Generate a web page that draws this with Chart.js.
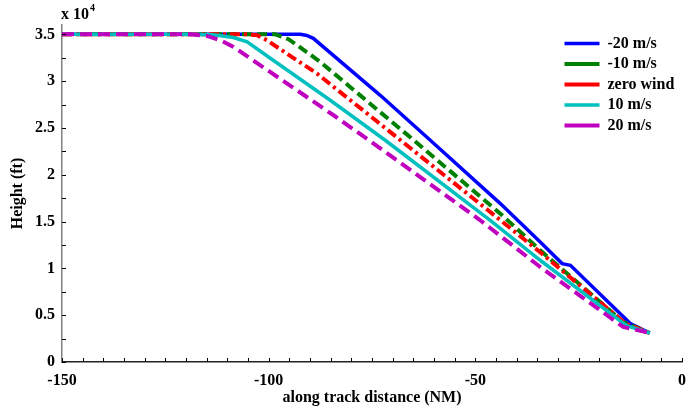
<!DOCTYPE html>
<html>
<head>
<meta charset="utf-8">
<script src="https://cdn.jsdelivr.net/npm/chart.js@4.4.1/dist/chart.umd.min.js"></script>
<style>
  html, body { margin: 0; padding: 0; background: #ffffff; }
  #wrap { position: relative; width: 688px; height: 412px; }
</style>
</head>
<body>
<div id="wrap"><canvas id="c" width="688" height="412"></canvas></div>
<script>
// ---- data (along track distance in NM, height in ft) ----
const seriesLabels = ['-20 m/s', '-10 m/s', 'zero wind', '10 m/s', '20 m/s'];

const distM20   = [-150, -92.3, -90.8, -89.2, -73.0, -60.9, -43.95, -34.3, -29.0, -27.0, -12.5, -7.8];
const heightM20 = [35000, 35000, 34880, 34580, 28490, 23690, 16920, 12820, 10510, 10330, 4100, 3100];

const distM10   = [-150, -98.4, -95.2, -93.1, -87.5, -64.9, -43.95, -34.3, -14.2, -7.8];
const heightM10 = [35000, 35000, 34480, 33840, 32050, 23690, 15850, 11930, 4270, 3100];

const distZero   = [-150, -105.2, -102.8, -100.4, -98.0, -88.3, -68.1, -46.4, -34.3, -13.7, -7.8];
const heightZero = [35000, 35000, 34900, 34370, 33650, 30810, 23690, 16030, 11720, 4130, 3100];

const distP10   = [-150, -119.0, -113.4, -108.55, -105.2, -99.6, -85.1, -71.8, -46.4, -34.3, -13.5, -7.8];
const heightP10 = [35000, 35000, 34950, 34660, 34190, 32450, 27960, 23690, 15140, 10870, 3920, 3100];

const distP20   = [-150, -119.0, -114.9, -111.7, -108.5, -84.3, -73.0, -48.8, -34.3, -14.2, -7.8];
const heightP20 = [35000, 35000, 34830, 34370, 33650, 26360, 22830, 15140, 10150, 3740, 3100];

const xTickValues = [-150, -100, -50, 0];
const yTickValues = [0, 5000, 10000, 15000, 20000, 25000, 30000, 35000];

// ---- helpers ----
function pts(xs, ys) { return xs.map((x, i) => ({ x: x, y: ys[i] })); }
const FONT = "'Liberation Serif', 'Times New Roman', serif";

const datasets = [
  { label: seriesLabels[0], data: pts(distM20, heightM20), borderColor: '#0000ff', backgroundColor: '#0000ff', borderWidth: 3.5, borderDash: [], order: 5 },
  { label: seriesLabels[1], data: pts(distM10, heightM10), borderColor: '#008000', backgroundColor: '#008000', borderWidth: 4, borderDash: [10, 5], order: 4 },
  { label: seriesLabels[2], data: pts(distZero, heightZero), borderColor: '#ff0000', backgroundColor: '#ff0000', borderWidth: 4, borderDash: [10, 4, 3, 4], order: 3 },
  { label: seriesLabels[3], data: pts(distP10, heightP10), borderColor: '#00bfbf', backgroundColor: '#00bfbf', borderWidth: 3.5, borderDash: [], order: 2 },
  { label: seriesLabels[4], data: pts(distP20, heightP20), borderColor: '#bf00bf', backgroundColor: '#bf00bf', borderWidth: 4, borderDash: [12, 6], order: 1 }
];
datasets.forEach(d => { d.pointRadius = 0; d.tension = 0; d.fill = false; d.borderCapStyle = 'butt'; });

// legend placement, inward major+minor tick marks, and the exponent label
const decoPlugin = {
  id: 'deco',
  beforeDraw(chart) {
    const lg = chart.legend;
    if (lg) {
      const targetLeft = 560, targetTop = 31;
      const dx = targetLeft - lg.left, dy = targetTop - lg.top;
      lg.left += dx; lg.right += dx; lg.top += dy; lg.bottom += dy;
    }
  },
  afterDraw(chart) {
    const ctx = chart.ctx;
    const xs = chart.scales.x, ys = chart.scales.y;
    const area = chart.chartArea;
    ctx.save();
    ctx.strokeStyle = '#000';
    ctx.lineWidth = 1;
    const L = 4;
    for (let v = -150; v <= 0; v += 5) {
      const px = Math.round(xs.getPixelForValue(v)) + 0.5;
      ctx.beginPath(); ctx.moveTo(px, area.bottom); ctx.lineTo(px, area.bottom - L); ctx.stroke();
    }
    for (let v = 0; v <= 35000; v += 2500) {
      const py = Math.round(ys.getPixelForValue(v)) + 0.5;
      ctx.beginPath(); ctx.moveTo(area.left, py); ctx.lineTo(area.left + L, py); ctx.stroke();
    }
    ctx.fillStyle = '#000';
    ctx.textBaseline = 'alphabetic';
    ctx.textAlign = 'left';
    ctx.font = 'bold 16px ' + FONT;
    ctx.fillText('x 10', 61, 19);
    const w = ctx.measureText('x 10').width;
    ctx.font = 'bold 10px ' + FONT;
    ctx.fillText('4', 61 + w + 1, 11);
    ctx.restore();
  }
};

new Chart(document.getElementById('c'), {
  type: 'line',
  data: { datasets: datasets },
  options: {
    responsive: false,
    animation: false,
    devicePixelRatio: 1,
    layout: { padding: { left: 0, right: 6, top: 25, bottom: 0 } },
    plugins: {
      tooltip: { enabled: false },
      legend: {
        position: 'chartArea',
        align: 'start',
        labels: {
          usePointStyle: true,
          pointStyle: 'line',
          pointStyleWidth: 35,
          boxHeight: 16,
          padding: 4.5,
          color: '#000',
          font: { family: FONT, size: 16, weight: 'bold' },
          sort: (a, b) => a.datasetIndex - b.datasetIndex
        }
      }
    },
    scales: {
      x: {
        type: 'linear',
        min: -150, max: 0,
        afterFit: s => { s.height = 50; s.paddingLeft = 0; s.paddingRight = 0; },
        afterBuildTicks: s => { s.ticks = xTickValues.map(v => ({ value: v })); },
        grid: { display: false, drawTicks: false },
        border: { display: true, color: '#222', width: 1.5 },
        ticks: { padding: 9, color: '#000', font: { family: FONT, size: 16, weight: 'bold' }, maxRotation: 0 },
        title: { display: true, text: 'along track distance (NM)', color: '#000', padding: { top: 0, bottom: 5 }, font: { family: FONT, size: 16, weight: 'bold' } }
      },
      y: {
        type: 'linear',
        min: 0, max: 36000,
        afterFit: s => { s.width = 62; s.paddingTop = 0; s.paddingBottom = 0; },
        afterBuildTicks: s => { s.ticks = yTickValues.map(v => ({ value: v })); },
        grid: { display: false, drawTicks: false },
        border: { display: true, color: '#808080', width: 1.5 },
        ticks: { padding: 7, color: '#000', font: { family: FONT, size: 16, weight: 'bold' }, callback: v => String(v / 10000) },
        title: { display: true, text: 'Height (ft)', color: '#000', padding: { top: 8, bottom: 0 }, font: { family: FONT, size: 16, weight: 'bold' } }
      }
    }
  },
  plugins: [decoPlugin]
});
</script>
</body>
</html>
